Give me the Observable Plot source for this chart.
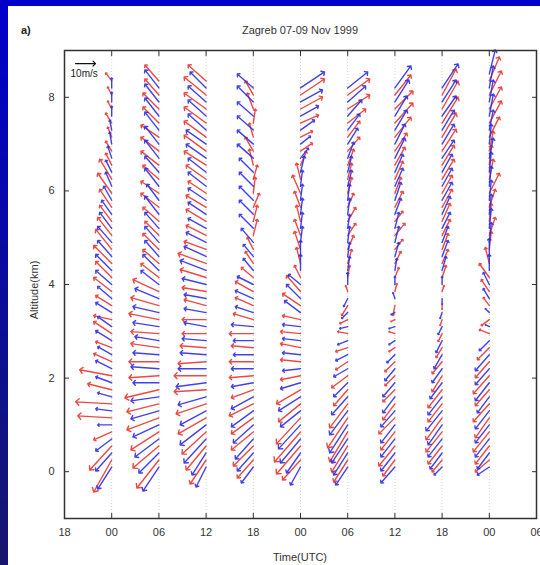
<!DOCTYPE html>
<html><head><meta charset="utf-8">
<script src="https://cdn.jsdelivr.net/npm/d3@7"></script>
<script src="https://cdn.jsdelivr.net/npm/@observablehq/plot@0.6"></script>
<style>
html,body{margin:0;padding:0;}
body{width:540px;height:565px;overflow:hidden;position:relative;background:linear-gradient(to bottom,#0000cc,#17176e);font-family:"Liberation Sans",Arial,sans-serif;}
#panel{position:absolute;left:8px;top:6px;width:532px;height:559px;background:#fff;overflow:hidden;}
#chart{position:absolute;left:0;top:34px;}
.lbl{position:absolute;color:#333;font-size:11px;white-space:nowrap;}
</style></head>
<body>
<div id="panel">
  <div class="lbl" style="left:13px;top:18px;font-weight:bold;font-size:11px;color:#222">a)</div>
  <div class="lbl" style="left:292px;top:18px;transform:translateX(-50%);">Zagreb 07-09 Nov 1999</div>
  <div class="lbl" style="left:26px;top:284px;transform:translate(-50%,-50%) rotate(-90deg);">Altitude(km)</div>
  <div class="lbl" style="left:292px;top:545px;transform:translateX(-50%);">Time(UTC)</div>
  <div id="chart"></div>
</div>
<script>
// hours since 00 UTC 7 Nov 1999
const times = [0, 6, 12, 18, 24, 30, 36, 42, 48];
const tickHours = [-6, 0, 6, 12, 18, 24, 30, 36, 42, 48, 54];
const tickLabels = ["18","00","06","12","18","00","06","12","18","00","06"];
const altTicks = [0, 2, 4, 6, 8];

const blueLevels = [0.1,0.4,0.7,1.0,1.3,1.6,1.9,2.2,2.5,2.8,3.1,3.4,3.7,4.0,4.3,4.6,4.9,5.2,5.5,5.8,6.1,6.4,6.7,7.0,7.3,7.6,7.9,8.2,8.5];
const redLevels = [0.25,0.55,0.85,1.15,1.45,1.75,2.05,2.35,2.65,2.95,3.25,3.55,3.85,4.15,4.45,4.75,5.05,5.35,5.65,5.95,6.25,6.55,6.85,7.15,7.45,7.75,8.05,8.35];

// u (east) and v (north) wind components, m/s
const blueU_07_00 = [-7,-8,-8,-7,-8,-7,-8,-8,-7,-8,-7,-8,-7,-8,-8,-7,-7,-6,-5,-4,-3,-3,-2,-1,-1,0,0,0,null];
const blueV_07_00 = [-11,-9,-6,0,1,2,3,4,4,5,5,5,6,7,8,8,8,8,7,7,7,6,6,6,5,5,5,5,null];
const redU_07_00 = [-9,-11,-9,-17,-18,-12,-16,-9,-8,-9,-9,-8,-9,-8,-9,-8,-7,-6,-6,-7,-6,-3,-3,-2,-3,-2,-2,-3];
const redV_07_00 = [-16,-12,-4,1,1,3,3,4,3,6,2,5,7,8,9,10,9,8,9,10,10,6,5,5,5,4,4,4];

const blueU_07_06 = [-8,-10,-12,-13,-14,-14,-13,-14,-13,-12,-13,-13,-12,-9,-8,-7,-7,-7,-7,-6,-7,-7,-7,-7,-7,-7,-7,-7,null];
const blueV_07_06 = [-12,-10,-9,-6,-4,-2,0,1,1,2,2,3,5,7,8,8,8,8,9,8,9,8,9,9,9,9,9,9,null];
const redU_07_06 = [-11,-13,-14,-16,-16,-17,-15,-15,-14,-14,-15,-14,-13,-9,-8,-8,-7,-8,-9,-9,-8,-9,-9,-9,-8,-8,-7,-7];
const redV_07_06 = [-14,-11,-9,-6,-4,-4,-1,0,2,1,3,4,6,7,7,8,7,7,7,6,7,7,7,6,8,8,8,8];

const blueU_07_12 = [-5,-7,-11,-13,-13,-14,-15,-14,-13,-12,-11,-11,-11,-12,-13,-11,-10,-9,-9,-9,-9,-9,-10,-10,-9,-9,-9,-8,null];
const blueV_07_12 = [-10,-11,-12,-10,-7,-4,-2,0,1,1,2,2,2,3,5,5,5,5,6,6,7,7,7,7,8,8,8,8,null];
const redU_07_12 = [-8,-10,-12,-14,-15,-16,-16,-14,-13,-12,-12,-11,-12,-13,-14,-11,-10,-10,-10,-9,-10,-11,-11,-11,-11,-11,-11,-9];
const redV_07_12 = [-12,-12,-11,-8,-5,-1,0,-1,1,0,0,3,2,4,5,4,5,6,6,6,7,7,8,8,8,8,9,8];

const blueU_07_18 = [-6,-8,-9,-10,-11,-11,-11,-11,-10,-10,-11,-9,-9,-8,-5,-5,-6,-7,-7,-7,-7,-7,-8,-8,-8,-8,-8,-8,null];
const blueV_07_18 = [-8,-9,-10,-9,-8,-6,-2,0,0,0,1,3,4,4,6,6,7,7,7,7,7,7,7,7,7,7,8,7,null];
const redU_07_18 = [-8,-10,-11,-11,-12,-11,-12,-12,-11,-12,-10,-9,-9,-6,-4,-3,2,2,3,1,2,-2,-4,-2,1,-3,-4,null];
const redV_07_18 = [-9,-10,-9,-8,-6,-4,-1,0,1,0,3,4,5,5,6,6,8,8,7,8,7,8,7,7,7,8,7,null];

const blueU_08_00 = [-5,-7,-10,-11,-10,-11,-10,-9,-9,-9,-9,-8,-7,-6,0,0,1,1,1,1,1,2,4,5,7,9,11,12,null];
const blueV_08_00 = [-9,-10,-12,-12,-8,-7,-3,-1,1,1,1,6,7,5,8,8,8,8,8,8,8,8,5,4,5,5,6,8,null];
const redU_08_00 = [-9,-12,-13,-12,-11,-12,-10,-10,-10,-10,-9,-9,-7,-3,-2,-3,-3,-2,-3,-4,-2,3,6,6,9,11,12,null];
const redV_08_00 = [-10,-14,-15,-13,-9,-7,-2,1,2,1,2,6,8,6,8,9,8,8,8,9,8,7,4,3,4,6,8,null];

const blueU_08_06 = [-6,-7,-8,-9,-9,-8,-7,-7,-6,-5,-4,-3,-2,0,1,1,1,1,1,1,2,2,3,5,6,7,9,10,null];
const blueV_08_06 = [-9,-11,-12,-14,-12,-9,-7,-4,-3,-2,-1,-3,-4,6,7,7,8,7,8,8,8,8,8,8,8,8,8,8,null];
const redU_08_06 = [-7,-8,-9,-10,-9,-7,-8,-6,-6,-5,-4,-3,-1,1,2,3,4,4,3,2,2,3,6,6,9,11,11,null];
const redV_08_06 = [-11,-13,-15,-15,-12,-8,-6,-4,-2,1,-2,-5,3,6,7,7,6,7,7,8,8,8,7,8,7,7,8,null];

const blueU_08_12 = [-7,-7,-7,-7,-7,-6,-6,-5,-4,-3,-3,-2,-1,0,1,2,2,2,3,3,4,4,5,5,6,6,7,8,null];
const blueV_08_12 = [-8,-9,-9,-9,-8,-8,-7,-6,-4,-2,-1,-1,3,4,6,7,8,8,8,9,9,9,10,10,10,10,11,11,null];
const redU_08_12 = [-6,-8,-7,-8,-6,-6,-5,-5,-3,-3,-2,-1,1,2,3,4,5,4,4,3,4,5,6,8,9,9,8,null];
const redV_08_12 = [-8,-10,-9,-8,-8,-6,-5,-5,-2,1,-1,-5,4,5,6,5,6,5,8,8,9,9,9,10,10,9,10,null];

const blueU_08_18 = [-4,-6,-7,-7,-8,-7,-6,-5,-4,-3,-2,-1,0,0,2,3,3,4,4,5,5,5,6,6,6,7,7,8,null];
const blueV_08_18 = [-4,-8,-9,-10,-10,-9,-8,-7,-7,-6,-4,-3,-3,4,7,8,8,8,9,9,9,9,9,10,10,10,11,12,null];
const redU_08_18 = [-5,-7,-8,-8,-7,-7,-5,-5,-3,-2,-1,0,1,2,3,3,4,4,5,5,6,6,7,7,8,8,7,null];
const redV_08_18 = [-6,-9,-10,-11,-9,-9,-8,-6,-5,-4,-3,-2,3,6,7,8,8,9,9,9,10,10,11,12,13,14,13,null];

const blueU_09_00 = [-6,-6,-7,-7,-7,-6,-7,-7,-7,-5,-2,-2,-3,-3,0,0,1,1,1,1,1,1,2,1,2,2,2,2,3];
const blueV_09_00 = [-4,-8,-9,-9,-9,-8,-9,-8,-8,-5,1,2,5,6,8,9,10,10,10,10,10,10,10,10,10,11,11,11,12];
const redU_09_00 = [-7,-7,-8,-7,-8,-7,-8,-7,-6,-5,-4,-3,-4,-5,-2,1,3,1,3,5,2,1,2,5,6,6,6,5];
const redV_09_00 = [-6,-9,-10,-10,-9,-8,-9,-8,-6,2,-3,4,6,7,8,9,9,9,9,10,10,10,10,10,11,11,12,12];

// reference arrow (10 m/s) and its label
const refSpeed = [10];
const refPos = [-4.6, 8.72];
const refLabel = ["10m/s"];
const refLabelPos = [-3.5, 8.5];

const profiles = [
  [times[0], blueU_07_00, blueV_07_00, redU_07_00, redV_07_00],
  [times[1], blueU_07_06, blueV_07_06, redU_07_06, redV_07_06],
  [times[2], blueU_07_12, blueV_07_12, redU_07_12, redV_07_12],
  [times[3], blueU_07_18, blueV_07_18, redU_07_18, redV_07_18],
  [times[4], blueU_08_00, blueV_08_00, redU_08_00, redV_08_00],
  [times[5], blueU_08_06, blueV_08_06, redU_08_06, redV_08_06],
  [times[6], blueU_08_12, blueV_08_12, redU_08_12, redV_08_12],
  [times[7], blueU_08_18, blueV_08_18, redU_08_18, redV_08_18],
  [times[8], blueU_09_00, blueV_09_00, redU_09_00, redV_09_00]
];

function toRows(t, U, V, levels) {
  const out = [];
  U.forEach((u, i) => {
    const v = V[i];
    if (u == null || v == null) return;
    out.push({t, alt: levels[i], s: Math.hypot(u, v), dir: Math.atan2(u, v) * 180 / Math.PI});
  });
  return out;
}
const blueRows = [], redRows = [];
profiles.forEach(([t, bu, bv, ru, rv]) => {
  blueRows.push(...toRows(t, bu, bv, blueLevels));
  redRows.push(...toRows(t, ru, rv, redLevels));
});
const refRows = [{t: refPos[0], alt: refPos[1], s: refSpeed[0], dir: 90}];
const refText = [{t: refLabelPos[0], alt: refLabelPos[1], label: refLabel[0]}];

const fmt = d => tickLabels[tickHours.indexOf(d)];

const chart = Plot.plot({
  width: 532, height: 525,
  marginLeft: 56, marginRight: 4, marginTop: 10, marginBottom: 47,
  x: {domain: [-6, 54]},
  y: {domain: [-1, 9]},
  length: {type: "linear", domain: [0, 10], range: [0, 20]},
  style: {fontFamily: "Liberation Sans, Arial, sans-serif", fontSize: "11px", color: "#333", background: "transparent", overflow: "visible"},
  marks: [
    Plot.gridX(tickHours, {stroke: "#999", strokeOpacity: 0.45, strokeDasharray: "1,2"}),
    Plot.vector(redRows, {x: "t", y: "alt", length: "s", rotate: "dir", anchor: "start", stroke: "#e62a22", strokeWidth: 1.4, strokeOpacity: 0.85, r: 1.6}),
    Plot.vector(blueRows, {x: "t", y: "alt", length: "s", rotate: "dir", anchor: "start", stroke: "#2c2ce6", strokeWidth: 1.4, strokeOpacity: 0.9, r: 1.6}),
    Plot.vector(refRows, {x: "t", y: "alt", length: "s", rotate: "dir", anchor: "start", stroke: "#111", strokeWidth: 1.2, r: 2.2}),
    Plot.text(refText, {x: "t", y: "alt", text: "label", fontSize: 10, fill: "#222"}),
    Plot.axisX(tickHours, {anchor: "bottom", tickSize: -5, tickPadding: 15, tickFormat: fmt, label: null}),
    Plot.axisX(tickHours, {anchor: "top", tickSize: -5, tickFormat: () => "", label: null}),
    Plot.axisY(altTicks, {anchor: "left", tickSize: -5, tickPadding: 15, label: null}),
    Plot.axisY(altTicks, {anchor: "right", tickSize: -5, tickFormat: () => "", label: null}),
    Plot.frame({stroke: "#333", strokeWidth: 1.5})
  ]
});
document.getElementById("chart").appendChild(chart);
</script>
</body></html>
